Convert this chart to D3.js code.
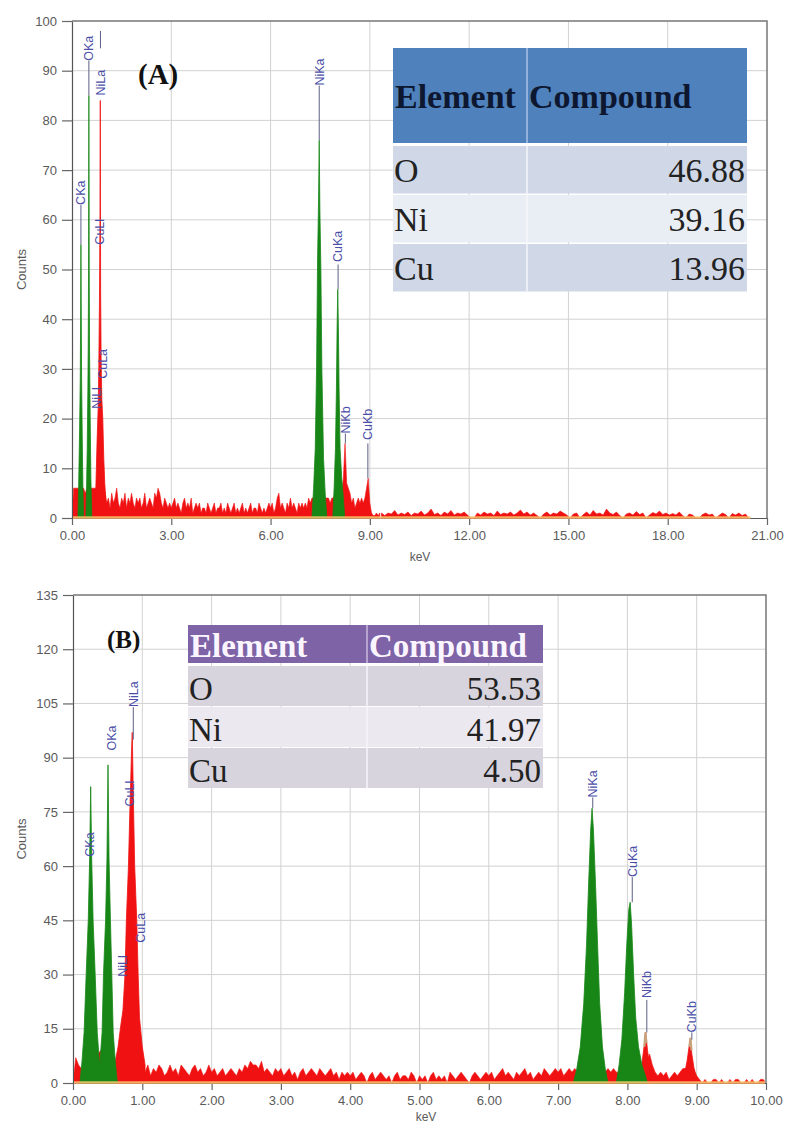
<!DOCTYPE html>
<html>
<head>
<meta charset="utf-8">
<script src="https://cdn.jsdelivr.net/npm/d3@7"></script>
<style>
  body { margin: 0; background: #fff; }
  svg { display: block; }
</style>
</head>
<body>
<svg id="chart" width="787" height="1134"></svg>
<script>
// ---------------- data ----------------
// Axis ticks
const energyTicksA = [0, 3, 6, 9, 12, 15, 18, 21];
const countTicksA = [0, 10, 20, 30, 40, 50, 60, 70, 80, 90, 100];
const energyTicksB = [0, 1, 2, 3, 4, 5, 6, 7, 8, 9, 10];
const countTicksB = [0, 15, 30, 45, 60, 75, 90, 105, 120, 135];

// Spectrum A: counts sampled every 0.05 keV from 0.00 to 9.30 keV
const backgroundA = [
  0, 6, 6, 6, 6, 6, 6, 6, 5, 6, 6, 6, 6, 6, 6, 6, 6, 6, 6, 6,
  5, 3, 4, 2, 5, 3, 4, 6, 3, 2, 4, 3, 5, 2, 4, 3, 5, 3, 2, 4,
  3, 4, 2, 3, 5, 2, 3, 4, 3, 2, 5, 4, 6, 5, 3, 2, 4, 3, 2, 3,
  2, 3, 4, 2, 3, 2, 1, 3, 4, 2, 3, 2, 4, 1, 2, 3, 2, 3, 1, 2,
  2, 1, 3, 2, 1, 2, 3, 1, 2, 2, 3, 1, 2, 1, 3, 2, 1, 2, 3, 1,
  2, 1, 2, 3, 1, 2, 1, 2, 3, 1, 2, 2, 1, 3, 2, 1, 2, 1, 2, 3,
  2, 3, 1, 2, 4, 5, 2, 3, 2, 1, 3, 2, 4, 2, 3, 2, 1, 3, 2, 3,
  2, 3, 2, 4, 3, 4, 4, 4, 4, 4, 4, 4, 4, 4, 4, 4, 3, 4, 4, 5,
  5, 5, 5, 5, 8, 15, 7, 6, 5, 3, 4, 2, 3, 4, 3, 4, 3, 4, 6, 8,
  3, 1, 0.5, 0.5, 1, 0.5, 1
];
// Spectrum A high-energy tail: counts every 0.1 keV from 9.35 to 20.45 keV
const tailA = [
  1, 0.5, 1, 0.8, 1.5, 0.6, 1, 0.7, 1.2, 0.5, 1, 0.8, 1.4, 0.6, 1, 1.8, 0.7, 1, 0.5, 1.2, 0.8, 1.5, 0.6, 1, 0.8, 1.2, 0.6, 0,
  0, 1, 0.6, 1.2, 0.8, 1, 0.5, 1.4, 0.7, 1, 0.8, 1.2, 0.6, 1, 1.6, 0.8, 1.2, 0.6, 1, 0.5, 0, 0.8, 1.2, 0.6, 1, 0.8, 1.4, 1, 0.6, 0,
  0.8, 1, 0, 0.7, 1.2, 0.6, 1.5, 0.8, 1, 0.6, 1.8, 1, 0.7, 1.2, 0.5, 0, 0.8, 1, 0.6, 1.3, 0.7, 1, 0, 0.6, 1.1, 0.8, 1.4, 0.7, 1, 0.6,
  0.9, 0.6, 1.2, 0.5, 0, 0.8, 0.6, 0, 0, 0.7, 1, 0.6, 0.8, 0, 0.5, 1, 0.7, 0, 0.9, 0.6, 1, 0.5, 0.8, 0
];
// L-line peak outlines of A as [keV, counts]
const redPeaksA = [
  [[0.72, 6], [0.76, 16], [0.79, 22], [0.81, 30], [0.83, 44], [0.845, 60], [0.855, 84], [0.865, 46],
   [0.88, 32], [0.90, 24], [0.93, 20], [0.96, 12], [0.99, 7], [1.02, 4]]
];
// Identified K-line peak outlines of A as [keV, counts]
const greenPeaksA = [
  [[0.18, 0], [0.20, 6], [0.23, 18], [0.25, 28], [0.26, 40], [0.27, 55], [0.28, 40], [0.29, 28], [0.31, 16], [0.33, 6], [0.35, 0]],
  [[0.42, 0], [0.44, 6], [0.46, 14], [0.48, 26], [0.49, 34], [0.50, 50], [0.51, 85], [0.52, 50], [0.53, 34], [0.55, 20], [0.57, 8], [0.60, 0]],
  [[7.25, 0], [7.30, 6], [7.35, 14], [7.39, 30], [7.42, 52], [7.45, 64], [7.47, 76], [7.49, 62], [7.52, 50], [7.55, 30], [7.60, 12], [7.65, 5], [7.70, 0]],
  [[7.88, 0], [7.92, 6], [7.96, 14], [7.99, 26], [8.01, 38], [8.03, 46], [8.05, 38], [8.07, 26], [8.10, 14], [8.15, 8], [8.20, 4], [8.24, 0]]
];
// Peak markers of A: name, energy, marker line (counts), label start (counts)
const linesA = [
  { name: 'CKa',  keV: 0.27, lo: 55,   hi: 63,  at: 63 },
  { name: 'OKa',  keV: 0.51, lo: 85,   hi: 92,  at: 92 },
  { name: 'NiLa', keV: 0.86, lo: 94.5, hi: 98,  at: 85 },
  { name: 'CuLl', keV: 0.83, lo: 0,    hi: 0,   at: 55 },
  { name: 'CuLa', keV: 0.94, lo: 0,    hi: 0,   at: 28 },
  { name: 'NiLl', keV: 0.75, lo: 0,    hi: 0,   at: 22 },
  { name: 'NiKa', keV: 7.47, lo: 76,   hi: 87,  at: 87 },
  { name: 'CuKa', keV: 8.04, lo: 46,   hi: 51,  at: 51.5 },
  { name: 'NiKb', keV: 8.26, lo: 15,   hi: 17,  at: 17 },
  { name: 'CuKb', keV: 8.94, lo: 8,    hi: 15,  at: 15.7 }
];

// Spectrum B: counts sampled every 0.04 keV from 0.00 to 10.00 keV
const backgroundB = [
  0, 7, 5, 4, 5, 5, 5, 5, 5, 8, 9, 7, 6, 6, 6, 6, 5, 5, 5, 5, 5, 5, 5, 5, 5,
  4, 3, 5, 2, 4, 3, 5, 4, 2, 3, 5, 3, 4, 2, 5, 4, 3, 2, 4, 5, 3, 4, 2, 3, 5,
  3, 4, 2, 3, 4, 2, 3, 4, 3, 2, 4, 3, 5, 4, 6, 5, 5, 4, 6, 3, 4, 3, 2, 4, 3,
  4, 2, 3, 4, 2, 3, 1, 3, 4, 2, 3, 4, 3, 2, 4, 3, 2, 3, 4, 2, 3, 1, 3, 2, 3,
  2, 3, 1, 2, 3, 2, 0, 2, 3, 1, 2, 3, 2, 1, 2, 0, 2, 3, 1, 2, 2, 1, 3, 2, 0,
  2, 1, 2, 0, 2, 3, 1, 2, 1, 2, 0, 3, 2, 1, 2, 3, 2, 1, 0, 2, 3, 2, 1, 2, 3,
  2, 3, 1, 2, 3, 4, 2, 3, 2, 1, 3, 2, 3, 4, 2, 3, 1, 2, 3, 2, 4, 3, 2, 3, 4,
  3, 4, 2, 3, 4, 3, 4, 3, 4, 4, 4, 4, 4, 4, 4, 4, 4, 3, 4, 3, 4, 3, 3, 3, 3,
  4, 4, 4, 4, 4, 4, 4, 5, 8, 5, 3, 2, 3, 2, 3, 1, 2, 3, 2, 3, 4, 4, 4, 4, 4,
  2, 1, 0, 1, 0, 0, 1, 1, 0, 1, 0, 0, 1, 0, 1, 1, 0, 0, 1, 0, 1, 0, 0, 1, 1,
  0
];
const redPeaksB = [
  [[0.60, 5], [0.65, 10], [0.69, 16], [0.72, 20], [0.75, 30], [0.77, 45], [0.80, 60], [0.82, 75], [0.845, 92], [0.855, 97],
   [0.87, 80], [0.89, 60], [0.92, 45], [0.94, 30], [0.96, 18], [1.00, 10], [1.04, 5]],
  [[8.20, 4], [8.24, 10], [8.265, 14], [8.29, 9], [8.33, 4]],
  [[8.82, 2], [8.86, 6], [8.89, 10], [8.91, 12], [8.93, 8], [8.97, 3], [9.00, 1]]
];
// Escape-peak shoulders drawn in a light tone over the Kb peaks of B
const tanPeaksB = [
  [[8.245, 10], [8.26, 14], [8.275, 11]],
  [[8.895, 10], [8.91, 12.5], [8.925, 9]]
];
const greenPeaksB = [
  [[0.10, 0], [0.13, 6], [0.16, 14], [0.19, 30], [0.22, 45], [0.24, 62], [0.255, 82], [0.27, 62], [0.29, 45], [0.32, 30], [0.35, 14], [0.38, 6], [0.41, 0]],
  [[0.36, 0], [0.39, 6], [0.42, 14], [0.44, 30], [0.47, 45], [0.49, 62], [0.505, 88], [0.52, 62], [0.54, 45], [0.56, 30], [0.58, 14], [0.61, 6], [0.64, 0]],
  [[7.22, 0], [7.27, 4], [7.32, 10], [7.37, 22], [7.41, 38], [7.44, 55], [7.47, 70], [7.49, 76], [7.51, 70], [7.54, 55], [7.57, 38], [7.60, 22], [7.64, 10], [7.68, 4], [7.72, 0]],
  [[7.84, 0], [7.88, 5], [7.92, 12], [7.96, 25], [7.99, 38], [8.02, 48], [8.04, 50], [8.06, 44], [8.09, 30], [8.12, 18], [8.16, 10], [8.21, 5], [8.26, 2], [8.29, 0]]
];
const linesB = [
  { name: 'CKa',  keV: 0.245, lo: 0,  hi: 0,   at: 62.6 },
  { name: 'OKa',  keV: 0.56,  lo: 0,  hi: 0,   at: 92 },
  { name: 'NiLa', keV: 0.87,  lo: 95, hi: 104, at: 104 },
  { name: 'CuLl', keV: 0.82,  lo: 0,  hi: 0,   at: 76.5 },
  { name: 'CuLa', keV: 0.97,  lo: 0,  hi: 0,   at: 38.8 },
  { name: 'NiLl', keV: 0.72,  lo: 0,  hi: 0,   at: 29.4 },
  { name: 'NiKa', keV: 7.50,  lo: 76, hi: 79,  at: 79 },
  { name: 'CuKa', keV: 8.07,  lo: 50, hi: 57,  at: 57 },
  { name: 'NiKb', keV: 8.28,  lo: 14, hi: 23,  at: 23.5 },
  { name: 'CuKb', keV: 8.93,  lo: 12, hi: 14,  at: 14 }
];

// Composition tables
const tableHeaders = ['Element', 'Compound'];
const elements = ['O', 'Ni', 'Cu'];
const compoundA = [46.88, 39.16, 13.96];
const compoundB = [53.53, 41.97, 4.50];

// ---------------- drawing ----------------
const svg = d3.select('#chart');
const RED = '#f01212', GREEN = '#178617', TAN = '#c9a27c', BASELINE = '#f7c76e';
const SANS = "'Liberation Sans', Arial, sans-serif";
const SERIF = "'Liberation Serif', 'Times New Roman', serif";

function drawPanel(p) {
  const x = d3.scaleLinear().domain(p.xDomain).range([p.left, p.right]);
  const y = d3.scaleLinear().domain(p.yDomain).range([p.bottom, p.top]);
  const g = svg.append('g');

  // grid
  g.append('g').selectAll('line').data(p.xTicks.slice(1, -1)).join('line')
    .attr('x1', d => x(d)).attr('x2', d => x(d))
    .attr('y1', p.top).attr('y2', p.bottom)
    .attr('stroke', '#d2d2d2').attr('stroke-width', 1);
  g.append('g').selectAll('line').data(p.yTicks.slice(1, -1)).join('line')
    .attr('x1', p.left).attr('x2', p.right)
    .attr('y1', d => y(d)).attr('y2', d => y(d))
    .attr('stroke', '#d2d2d2').attr('stroke-width', 1);

  // axes
  const xAxis = d3.axisBottom(x).tickValues(p.xTicks).tickFormat(d3.format('.2f'))
    .tickSizeInner(7).tickSizeOuter(0).tickPadding(6);
  const gx = g.append('g').attr('transform', `translate(0,${p.bottom})`).call(xAxis);
  const yAxis = d3.axisLeft(y).tickValues(p.yTicks).tickFormat(d3.format('d'))
    .tickSizeInner(10).tickSizeOuter(0).tickPadding(5);
  const gy = g.append('g').attr('transform', `translate(${p.left},0)`).call(yAxis);
  [gx, gy].forEach(a => {
    a.select('.domain').attr('stroke', '#555').attr('stroke-width', 1.2);
    a.selectAll('.tick line').attr('stroke', '#666').attr('stroke-width', 1.2);
    a.selectAll('.tick text').attr('fill', '#5a5a5a')
      .style('font-family', SANS).style('font-size', '13px');
  });

  // frame: top and right edges
  g.append('path')
    .attr('d', `M${p.left},${p.top}H${p.right}V${p.bottom}`)
    .attr('fill', 'none').attr('stroke', '#777').attr('stroke-width', 1.5);

  // axis titles
  g.append('text').text('Counts')
    .attr('transform', `translate(${p.countsX},${(p.top + p.bottom) / 2}) rotate(-90)`)
    .attr('text-anchor', 'middle').attr('fill', '#5a5a5a')
    .style('font-family', SANS).style('font-size', '13px');
  g.append('text').text('keV')
    .attr('x', p.kevX).attr('y', p.kevY)
    .attr('text-anchor', 'middle').attr('fill', '#5a5a5a')
    .style('font-family', SANS).style('font-size', '12px');

  // spectrum
  const clipId = 'clip' + p.id;
  svg.append('clipPath').attr('id', clipId).append('rect')
    .attr('x', p.left + 1).attr('y', p.top + 1)
    .attr('width', p.right - p.left - 2).attr('height', p.bottom - p.top + 1);
  const plot = g.append('g').attr('clip-path', `url(#${clipId})`);
  const area = d3.area().x(d => x(d[0])).y0(y(0)).y1(d => y(d[1]));
  const lineGen = d3.line().x(d => x(d[0])).y(d => y(d[1]));

  const bg = p.bg.map((c, i) => [p.bgStart + i * p.bgStep, c]);
  const segments = [bg];
  if (p.tail) segments.push(p.tail.map((c, i) => [p.tailStart + i * p.tailStep, c]));
  segments.forEach(s => plot.append('path').attr('d', area(s))
    .attr('fill', RED).attr('stroke', RED).attr('stroke-width', 0.6).attr('stroke-linejoin', 'round'));
  p.redPeaks.forEach(s => plot.append('path').attr('d', area(s))
    .attr('fill', RED).attr('stroke', RED).attr('stroke-width', 0.8));
  p.greenPeaks.forEach(s => plot.append('path').attr('d', area(s))
    .attr('fill', GREEN).attr('stroke', GREEN).attr('stroke-width', 0.8));
  (p.tanPeaks || []).forEach(s => plot.append('path').attr('d', lineGen(s))
    .attr('fill', 'none').attr('stroke', TAN).attr('stroke-width', 2.2));

  // background-fit baseline along the energy axis
  plot.append('line')
    .attr('x1', x(0)).attr('x2', x(p.baseEnd))
    .attr('y1', y(0) - 0.5).attr('y2', y(0) - 0.5)
    .attr('stroke', BASELINE).attr('stroke-width', 2.5).attr('stroke-opacity', 0.85);

  // peak markers
  const mk = g.append('g');
  mk.selectAll('line').data(p.lines.filter(d => d.hi > d.lo)).join('line')
    .attr('x1', d => x(d.keV)).attr('x2', d => x(d.keV))
    .attr('y1', d => y(d.lo)).attr('y2', d => y(d.hi))
    .attr('stroke', '#5d5f86').attr('stroke-width', 1);
  mk.selectAll('text').data(p.lines).join('text')
    .text(d => d.name)
    .attr('transform', d => `translate(${x(d.keV)},${y(d.at)}) rotate(-90)`)
    .attr('dy', '0.35em')
    .attr('fill', '#4b4ea8')
    .style('font-family', SANS).style('font-size', '12.5px');

  // panel tag
  g.append('text').text(p.title)
    .attr('x', p.titleX).attr('y', p.titleY)
    .attr('fill', '#111').style('font-family', SERIF)
    .style('font-weight', 'bold').style('font-size', p.titleSize + 'px');
}

function drawTable(t) {
  const g = svg.append('g');
  g.append('rect').attr('x', t.x0).attr('y', t.headerTop)
    .attr('width', t.x1 - t.x0).attr('height', t.headerH).attr('fill', t.headerFill);
  g.selectAll('rect.row').data(t.values).join('rect').attr('class', 'row')
    .attr('x', t.x0).attr('y', (d, i) => t.rowTop + i * t.rowStep)
    .attr('width', t.x1 - t.x0).attr('height', t.rowH)
    .attr('fill', (d, i) => t.rowFills[i % 2]);
  g.append('line').attr('x1', t.colX).attr('x2', t.colX)
    .attr('y1', t.headerTop).attr('y2', t.headerTop + t.headerH)
    .attr('stroke', t.headerDivider).attr('stroke-width', 1.5);
  g.append('line').attr('x1', t.colX).attr('x2', t.colX)
    .attr('y1', t.rowTop).attr('y2', t.rowTop + 2 * t.rowStep + t.rowH)
    .attr('stroke', '#f6f6fa').attr('stroke-width', 1.5);

  g.selectAll('text.head').data(tableHeaders).join('text').attr('class', 'head')
    .text(d => d)
    .attr('x', (d, i) => i === 0 ? t.x0 + 2 : t.colX + 2)
    .attr('y', t.headerBase)
    .attr('fill', t.headerColor)
    .style('font-family', SERIF).style('font-weight', 'bold').style('font-size', t.headSize + 'px');
  g.selectAll('text.el').data(elements).join('text').attr('class', 'el')
    .text(d => d)
    .attr('x', t.x0 + 1).attr('y', (d, i) => t.rowTop + i * t.rowStep + t.baseOff)
    .attr('fill', '#222').style('font-family', SERIF).style('font-size', t.bodySize + 'px');
  g.selectAll('text.val').data(t.values).join('text').attr('class', 'val')
    .text(d => d.toFixed(2))
    .attr('x', t.x1 - 2).attr('y', (d, i) => t.rowTop + i * t.rowStep + t.baseOff)
    .attr('text-anchor', 'end')
    .attr('fill', '#222').style('font-family', SERIF).style('font-size', t.bodySize + 'px');
}

drawPanel({
  id: 'A', xDomain: [0, 21], yDomain: [0, 100],
  left: 72, right: 767, top: 21, bottom: 518,
  xTicks: energyTicksA, yTicks: countTicksA,
  bg: backgroundA, bgStart: 0, bgStep: 0.05,
  tail: tailA, tailStart: 9.35, tailStep: 0.1,
  redPeaks: redPeaksA, greenPeaks: greenPeaksA, lines: linesA,
  baseEnd: 20.5, countsX: 26, kevX: 420, kevY: 561,
  title: '(A)', titleX: 138, titleY: 84, titleSize: 29
});
drawPanel({
  id: 'B', xDomain: [0, 10], yDomain: [0, 135],
  left: 73, right: 766, top: 595, bottom: 1083,
  xTicks: energyTicksB, yTicks: countTicksB,
  bg: backgroundB, bgStart: 0, bgStep: 0.04,
  tail: null,
  redPeaks: redPeaksB, greenPeaks: greenPeaksB, tanPeaks: tanPeaksB, lines: linesB,
  baseEnd: 10, countsX: 26, kevX: 426, kevY: 1121,
  title: '(B)', titleX: 107, titleY: 648, titleSize: 25
});

drawTable({
  x0: 393, x1: 747, colX: 527,
  headerTop: 48, headerH: 95, headerFill: '#4f81bd', headerDivider: '#a9c3e6',
  headerColor: '#0e1730', headerBase: 108, headSize: 34,
  rowTop: 146, rowStep: 49, rowH: 47.5, rowFills: ['#d0d8e8', '#e9edf4'],
  baseOff: 36, bodySize: 34, values: compoundA
});
drawTable({
  x0: 188, x1: 543, colX: 367,
  headerTop: 625, headerH: 38, headerFill: '#7f63a7', headerDivider: '#c9b8dc',
  headerColor: '#fbf5ff', headerBase: 657, headSize: 33,
  rowTop: 666, rowStep: 41, rowH: 40, rowFills: ['#d7d4de', '#ebe8f0'],
  baseOff: 34, bodySize: 33, values: compoundB
});
</script>
</body>
</html>
